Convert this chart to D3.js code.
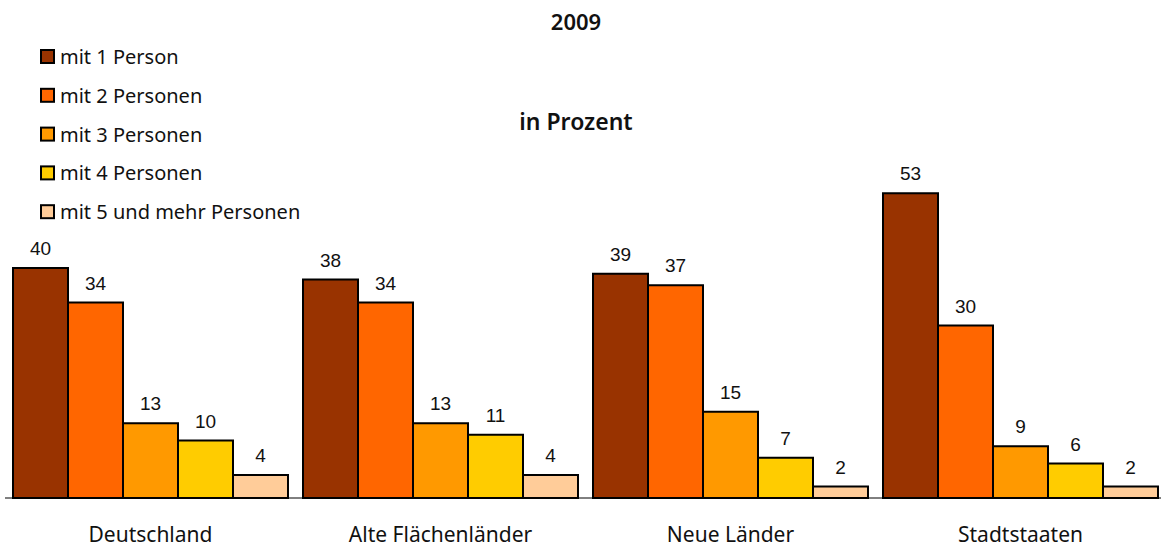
<!DOCTYPE html>
<html>
<head>
<meta charset="utf-8">
<script src="https://cdn.jsdelivr.net/npm/d3@7"></script>
<style>
  body { margin: 0; background: #fff; }
  text { font-family: "Noto Sans", sans-serif; fill: #111; }
  .val { font-family: "Liberation Sans", Arial, sans-serif; font-size: 19px; }
</style>
</head>
<body>
<div id="chart"></div>
<script>
// data
var regions = ["Deutschland", "Alte Flächenländer", "Neue Länder", "Stadtstaaten"];
var series = ["mit 1 Person", "mit 2 Personen", "mit 3 Personen", "mit 4 Personen", "mit 5 und mehr Personen"];
var colors = ["#993300", "#FF6600", "#FF9900", "#FFCC00", "#FFCC99"];
var values = [
  [40, 34, 13, 10, 4],
  [38, 34, 13, 11, 4],
  [39, 37, 15, 7, 2],
  [53, 30, 9, 6, 2]
];

var width = 1161, height = 550;
var baseY = 498;

var svg = d3.select("#chart").append("svg")
    .attr("width", width)
    .attr("height", height);

var x0 = d3.scaleBand()
    .domain(regions)
    .range([13, 1158])
    .paddingInner(15 / 290)
    .paddingOuter(0);

var x1 = d3.scaleBand()
    .domain(series)
    .range([0, x0.bandwidth()]);

var y = d3.scaleLinear()
    .domain([0, 40])
    .range([baseY, 268]);

var color = d3.scaleOrdinal().domain(series).range(colors);

// titles
svg.append("text")
    .attr("x", 576).attr("y", 30)
    .attr("text-anchor", "middle")
    .style("font-size", "22px").style("font-weight", "600")
    .text("2009");

svg.append("text")
    .attr("x", 576).attr("y", 130)
    .attr("text-anchor", "middle")
    .style("font-size", "23px").style("font-weight", "600")
    .text("in Prozent");

// bars
var group = svg.selectAll(".group")
    .data(regions)
    .enter().append("g")
    .attr("class", "group")
    .attr("transform", function(d) { return "translate(" + x0(d) + ",0)"; });

group.selectAll("rect")
    .data(function(d, i) {
      return series.map(function(s, j) { return {key: s, value: values[i][j]}; });
    })
    .enter().append("rect")
    .attr("x", function(d) { return x1(d.key); })
    .attr("y", function(d) { return y(d.value); })
    .attr("width", x1.bandwidth())
    .attr("height", function(d) { return baseY - y(d.value); })
    .attr("fill", function(d) { return color(d.key); })
    .attr("stroke", "#000")
    .attr("stroke-width", 2);

group.selectAll(".val")
    .data(function(d, i) {
      return series.map(function(s, j) { return {key: s, value: values[i][j]}; });
    })
    .enter().append("text")
    .attr("class", "val")
    .attr("x", function(d) { return x1(d.key) + x1.bandwidth() / 2; })
    .attr("y", function(d) { return y(d.value) - 13; })
    .attr("text-anchor", "middle")
    .text(function(d) { return d.value; });

// baseline
svg.append("line")
    .attr("x1", 5).attr("x2", width)
    .attr("y1", baseY).attr("y2", baseY)
    .attr("stroke", "#000").attr("stroke-width", 1);

// category labels
svg.selectAll(".cat")
    .data(regions)
    .enter().append("text")
    .attr("class", "cat")
    .attr("x", function(d) { return x0(d) + x0.bandwidth() / 2; })
    .attr("y", 542)
    .attr("text-anchor", "middle")
    .style("font-size", "21px")
    .text(function(d) { return d; });

// legend
var legend = svg.selectAll(".legend")
    .data(series)
    .enter().append("g")
    .attr("class", "legend")
    .attr("transform", function(d, i) { return "translate(41," + (50 + i * 38.8) + ")"; });

legend.append("rect")
    .attr("width", 13).attr("height", 13)
    .attr("fill", function(d) { return color(d); })
    .attr("stroke", "#000").attr("stroke-width", 2);

legend.append("text")
    .attr("x", 19).attr("y", 14)
    .style("font-size", "20px")
    .text(function(d) { return d; });
</script>
</body>
</html>
